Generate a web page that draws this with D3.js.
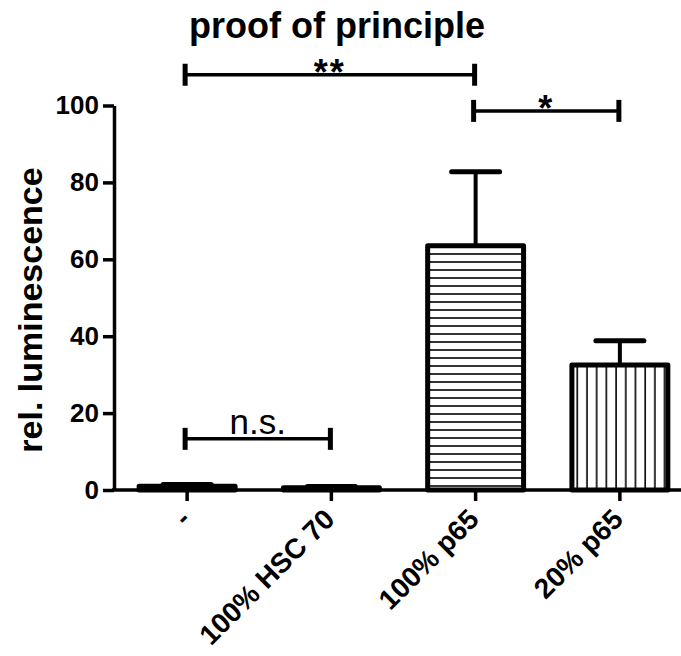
<!DOCTYPE html>
<html>
<head>
<meta charset="utf-8">
<script src="https://cdn.jsdelivr.net/npm/d3@7"></script>
<style>
  body { margin: 0; background: #fff; }
  svg { font-family: "Liberation Sans", Arial, sans-serif; }
</style>
</head>
<body>
<div id="chart"></div>
<script>
// data
const categories = ["-", "100% HSC 70", "100% p65", "20% p65"];
const means = [1.0, 0.6, 63.5, 32.5];
const errors = [0.4, 0.3, 19.3, 6.3];
const yTicks = [0, 20, 40, 60, 80, 100];
// significance brackets: from, to, label, height (in y units)
const bracketFrom = [0, 2, 0];
const bracketTo = [2, 3, 1];
const bracketText = ["**", "*", "n.s."];
const bracketLevel = [108, 98.6, 13.3];

const width = 681, height = 656;

const svg = d3.select("#chart").append("svg")
  .attr("width", width)
  .attr("height", height);

const x = d3.scaleBand()
  .domain(categories)
  .range([115, 692])
  .paddingInner(0.335)
  .paddingOuter(0.1675);

const y = d3.scaleLinear()
  .domain([0, 100])
  .range([490, 105.5]);

// fill patterns for the p65 bars
const defs = svg.append("defs");
const hp = defs.append("pattern")
  .attr("id", "hlines")
  .attr("patternUnits", "userSpaceOnUse")
  .attr("width", 10).attr("height", 8)
  .attr("y", 2);
hp.append("rect").attr("width", 10).attr("height", 8).attr("fill", "#fff");
hp.append("line").attr("x1", 0).attr("x2", 10).attr("y1", 4).attr("y2", 4)
  .attr("stroke", "#000").attr("stroke-width", 1.6);

const vp = defs.append("pattern")
  .attr("id", "vlines")
  .attr("patternUnits", "userSpaceOnUse")
  .attr("width", 9.7).attr("height", 10)
  .attr("x", 1);
vp.append("rect").attr("width", 9.7).attr("height", 10).attr("fill", "#fff");
vp.append("line").attr("x1", 4).attr("x2", 4).attr("y1", 0).attr("y2", 10)
  .attr("stroke", "#000").attr("stroke-width", 1.6);

const fills = ["#fff", "#fff", "url(#hlines)", "url(#vlines)"];

// bars
svg.selectAll("rect.bar")
  .data(categories)
  .enter()
  .append("rect")
    .attr("class", "bar")
    .attr("x", d => x(d))
    .attr("y", (d, i) => y(means[i]))
    .attr("width", x.bandwidth())
    .attr("height", (d, i) => y(0) - y(means[i]))
    .attr("fill", (d, i) => fills[i])
    .attr("stroke", "#000")
    .attr("stroke-width", 5)
    .attr("stroke-linejoin", "round");

// error bars (upper only)
const errG = svg.append("g").attr("stroke", "#000");
categories.forEach((c, i) => {
  const cx = x(c) + x.bandwidth() / 2;
  errG.append("line")
    .attr("x1", cx).attr("x2", cx)
    .attr("y1", y(means[i])).attr("y2", y(means[i] + errors[i]))
    .attr("stroke-width", 4);
  errG.append("line")
    .attr("x1", cx - 24).attr("x2", cx + 24)
    .attr("y1", y(means[i] + errors[i])).attr("y2", y(means[i] + errors[i]))
    .attr("stroke-width", 5)
    .attr("stroke-linecap", "round");
});

// y axis
const yAxis = svg.append("g")
  .attr("transform", "translate(114,0)")
  .call(d3.axisLeft(y).tickValues(yTicks).tickSize(11).tickSizeOuter(0).tickPadding(4));
yAxis.select(".domain").attr("stroke-width", 3.5);
yAxis.selectAll(".tick line").attr("stroke-width", 3.5);
yAxis.selectAll(".tick text")
  .attr("font-size", 26)
  .attr("font-weight", "bold")
  .attr("fill", "#000")
  .attr("font-family", "Liberation Sans, Arial, sans-serif");

// x axis
const xAxis = svg.append("g")
  .attr("transform", "translate(0,490)")
  .call(d3.axisBottom(x).tickSize(11).tickSizeOuter(0).tickFormat(""));
xAxis.select(".domain").attr("d", "M112,0H681").attr("stroke-width", 3.5);
xAxis.selectAll(".tick line").attr("stroke-width", 3.5);

// rotated category labels
svg.selectAll("text.xlab")
  .data(categories)
  .enter()
  .append("text")
    .attr("class", "xlab")
    .attr("transform", d => `translate(${x(d) + x.bandwidth() / 2 + 5},${521}) rotate(-45)`)
    .attr("text-anchor", "end")
    .attr("font-size", 28)
    .attr("font-weight", "bold")
    .text(d => d);

// significance brackets
bracketText.forEach((t, i) => {
  const a = x(categories[bracketFrom[i]]) + x.bandwidth() / 2 - 2;
  const b = x(categories[bracketTo[i]]) + x.bandwidth() / 2 - 1;
  const by = y(bracketLevel[i]);
  const g = svg.append("g").attr("stroke", "#000");
  g.append("line").attr("x1", a).attr("x2", b).attr("y1", by).attr("y2", by).attr("stroke-width", 3.5);
  g.append("line").attr("x1", a).attr("x2", a).attr("y1", by - 11).attr("y2", by + 11).attr("stroke-width", 5);
  g.append("line").attr("x1", b).attr("x2", b).attr("y1", by - 11).attr("y2", by + 11).attr("stroke-width", 5);
  const isStar = t !== "n.s.";
  svg.append("text")
    .attr("x", (a + b) / 2)
    .attr("y", isStar ? by + 10 : by - 5)
    .attr("text-anchor", "middle")
    .attr("font-size", isStar ? 36 : 35)
    .attr("font-weight", isStar ? "bold" : "normal")
    .attr("letter-spacing", isStar ? 2 : 0)
    .text(t);
});

// title
svg.append("text")
  .attr("x", 337)
  .attr("y", 38)
  .attr("text-anchor", "middle")
  .attr("font-size", 36)
  .attr("font-weight", "bold")
  .text("proof of principle");

// y label
svg.append("text")
  .attr("transform", "translate(42,310) rotate(-90)")
  .attr("text-anchor", "middle")
  .attr("font-size", 34)
  .attr("font-weight", "bold")
  .text("rel. luminescence");
</script>
</body>
</html>
